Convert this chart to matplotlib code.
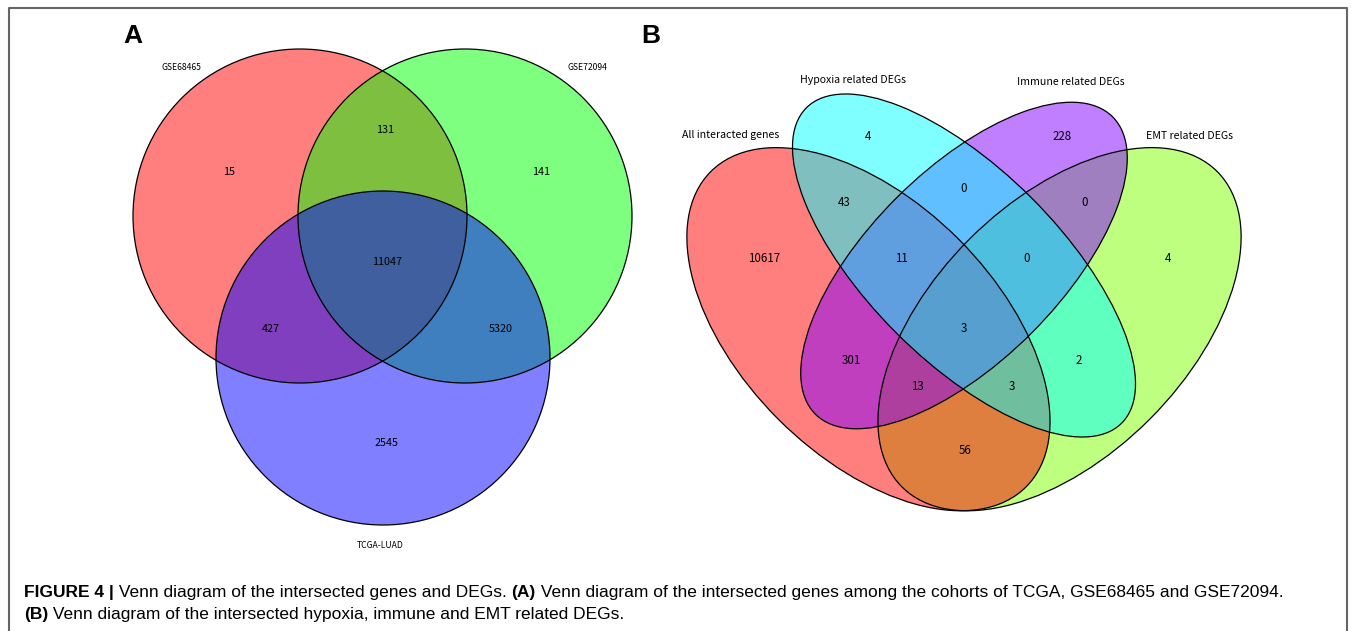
import matplotlib
matplotlib.use('Agg')
import matplotlib.pyplot as plt
from matplotlib.patches import Circle, Ellipse

# panel A: three cohorts
sets_a = ['GSE68465', 'GSE72094', 'TCGA-LUAD']
colors_a = ['#FF0000', '#00FF00', '#0000FF']
counts_a = [15, 141, 2545, 131, 427, 5320, 11047]

# panel B: four gene sets
sets_b = ['All interacted genes', 'Hypoxia related DEGs',
          'Immune related DEGs', 'EMT related DEGs']
colors_b = ['#FF0000', '#00FFFF', '#8000FF', '#80FF00']
counts_b = [10617, 4, 228, 4, 43, 0, 0, 301, 2, 56, 11, 0, 13, 3, 3]

caption1 = ['FIGURE 4 |', ' Venn diagram of the intersected genes and DEGs. ', '(A)',
            ' Venn diagram of the intersected genes among the cohorts of TCGA, GSE68465 and GSE72094.']
caption2 = ['(B)', ' Venn diagram of the intersected hypoxia, immune and EMT related DEGs.']

W, H = 1355, 631
fig = plt.figure(figsize=(W / 100, H / 100), dpi=100)
ax = fig.add_axes([0, 0, 1, 1])
ax.set_xlim(0, W)
ax.set_ylim(H, 0)
ax.axis('off')

lab_font = ['Noto Sans CJK SC', 'DejaVu Sans']

# frame
ax.plot([9, 9, 1347, 1347], [H + 5, 8, 8, H + 5], color='#666666', lw=1.5)

# ---- panel A ----
r = 167
circ_xy = [(300, 216), (465, 216), (383, 358)]
for (cx, cy), c in zip(circ_xy, colors_a):
    ax.add_patch(Circle((cx, cy), r, facecolor=c, alpha=0.5, edgecolor='none'))
for cx, cy in circ_xy:
    ax.add_patch(Circle((cx, cy), r, facecolor='none', edgecolor='black', lw=0.9))

num_pos_a = [(229, 172), (541, 172), (387, 443), (385, 130), (271, 329), (501, 329), (387, 262)]
for (x, y), v in zip(num_pos_a, counts_a):
    ax.text(x, y, str(v), ha='center', va='center', fontsize=7.8, family=lab_font)
set_pos_a = [(181, 67), (587, 67), (380, 546)]
for (x, y), s in zip(set_pos_a, sets_a):
    ax.text(x, y, s, ha='center', va='center', fontsize=6.2, family=lab_font)

# ---- panel B ----  (VennDiagram quad layout, unit coords -> pixels)
s = 637.0
def px(x, y):
    return 964 + (x - 0.5) * s, 265.5 - (y - 0.57) * s

ell = [(0.35, 0.47, 0.35, 0.20, 135), (0.50, 0.57, 0.35, 0.15, 135),
       (0.50, 0.57, 0.33, 0.15, 45), (0.65, 0.47, 0.35, 0.20, 45)]
draw_order = [3, 0, 2, 1]
for i in draw_order:
    x, y, a, b, rot = ell[i]
    ax.add_patch(Ellipse(px(x, y), 2 * a * s, 2 * b * s, angle=-rot,
                         facecolor=colors_b[i], alpha=0.5, edgecolor='none'))
for x, y, a, b, rot in ell:
    ax.add_patch(Ellipse(px(x, y), 2 * a * s, 2 * b * s, angle=-rot,
                         facecolor='none', edgecolor='black', lw=0.9))

num_pos_b = [(764, 258), (868, 137), (1062, 137), (1168, 258), (844, 202), (964, 189),
             (1085, 202), (851, 361), (1079, 361), (965, 450), (901, 258), (1027, 258),
             (917, 386), (1012, 386), (964, 329)]
for (x, y), v in zip(num_pos_b, counts_b):
    ax.text(x, y, str(v), ha='center', va='center', fontsize=8.3, family=lab_font)
set_pos_b = [(731, 135), (853, 80), (1071, 82), (1189, 136)]
for (x, y), t in zip(set_pos_b, sets_b):
    ax.text(x, y, t, ha='center', va='center', fontsize=7.6, family=lab_font)

ax.text(133, 36, 'A', ha='center', va='center', fontsize=19, weight='bold', family='Liberation Sans')
ax.text(651, 36, 'B', ha='center', va='center', fontsize=19, weight='bold', family='Liberation Sans')

# caption, bold/regular runs
def run_line(parts, y):
    x = 24
    rend = fig.canvas.get_renderer()
    for p in parts:
        bold = p.startswith('(') or p.startswith('FIGURE')
        t = ax.text(x, y, p, ha='left', va='baseline', fontsize=12.5,
                    family='Liberation Sans', weight='bold' if bold else 'normal')
        bb = t.get_window_extent(renderer=rend)
        x += bb.width

run_line(caption1, 597)
run_line(caption2, 619)

fig.savefig('out.png', dpi=100)
